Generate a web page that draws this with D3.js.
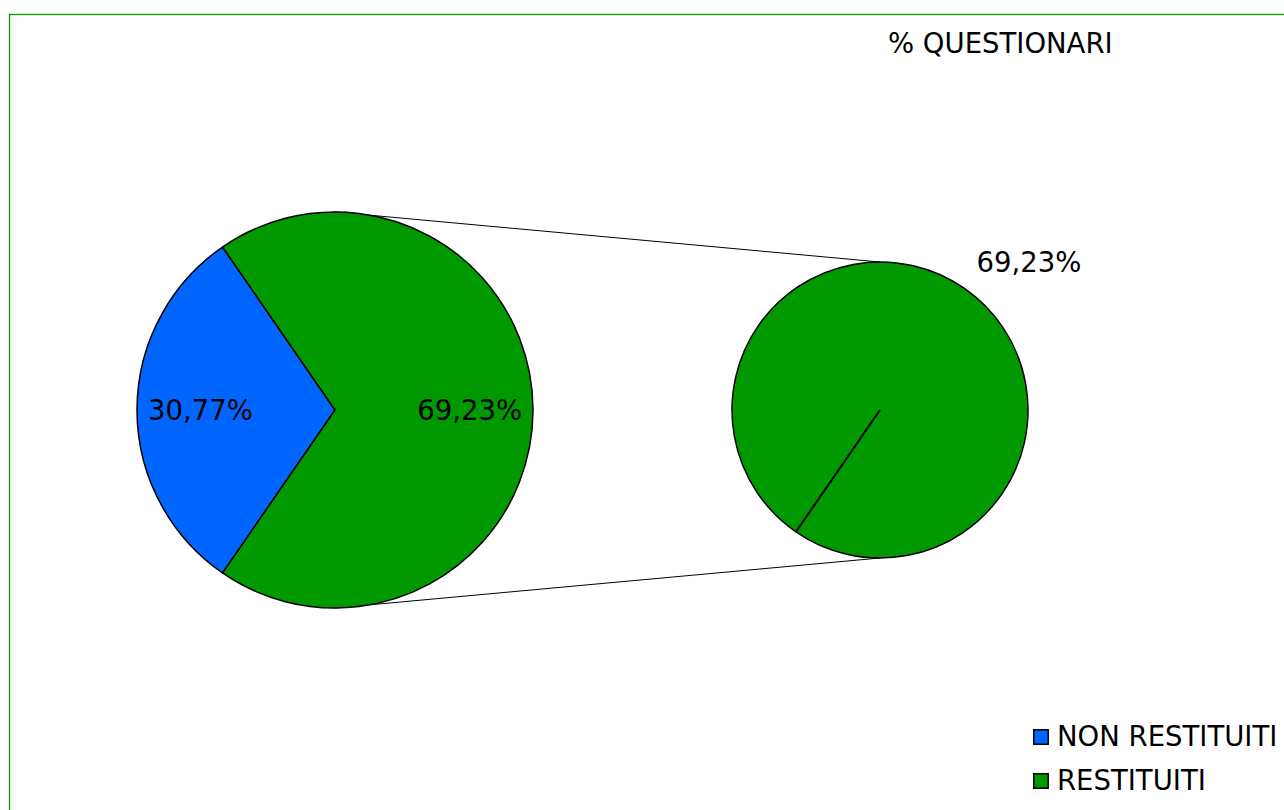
<!DOCTYPE html>
<html><head><meta charset="utf-8">
<script src="https://cdn.jsdelivr.net/npm/d3@7"></script>
<style>
html,body{margin:0;padding:0;background:#fff;}
svg{display:block;}
text{font-family:"DejaVu Sans",Verdana,sans-serif;fill:#000;}
</style></head>
<body>
<svg id="chart" width="1284" height="810"></svg>
<script>
const title = "% QUESTIONARI";
const categories = ["NON RESTITUITI", "RESTITUITI"];
const values = [30.77, 69.23];
const valueLabels = ["30,77%", "69,23%"];
const colors = ["#0066ff", "#009900"];
// second pie: breakdown of the "RESTITUITI" slice
const subValues = [69.23];
const subLabels = ["69,23%"];

const svg = d3.select("#chart");
const W = 1284, H = 810;
const FS = 27.5;

// outer frame
svg.append("rect").attr("x", 9.5).attr("y", 14.5).attr("width", W + 20).attr("height", H + 20)
  .attr("fill", "none").attr("stroke", "#00a000").attr("stroke-width", 1.3);

svg.append("text").attr("x", 888).attr("y", 53).attr("font-size", FS).text(title);

const c1 = {x: 335, y: 410, r: 198};
const c2 = {x: 880, y: 410, r: 148};

const total = d3.sum(values);
const startA = Math.PI * 1.5 - (values[0] / total) * Math.PI;

// connector lines
svg.append("line").attr("x1", c1.x).attr("y1", c1.y - c1.r).attr("x2", c2.x).attr("y2", c2.y - c2.r)
  .attr("stroke", "#000").attr("stroke-width", 1);
svg.append("line").attr("x1", c1.x).attr("y1", c1.y + c1.r).attr("x2", c2.x).attr("y2", c2.y + c2.r)
  .attr("stroke", "#000").attr("stroke-width", 1);

const pie = d3.pie().sort(null).value(d => d).startAngle(startA).endAngle(startA + 2 * Math.PI);
const arcs = pie(values);
const arc1 = d3.arc().innerRadius(0).outerRadius(c1.r);
const g1 = svg.append("g").attr("transform", `translate(${c1.x},${c1.y})`);
g1.selectAll("path").data(arcs).join("path")
  .attr("d", arc1).attr("fill", (d, i) => colors[i])
  .attr("stroke", "#000").attr("stroke-width", 1.5).attr("stroke-linejoin", "round");
const lblArc = d3.arc().innerRadius(c1.r * 0.68).outerRadius(c1.r * 0.68);
g1.selectAll("text").data(arcs).join("text")
  .attr("transform", d => { const p = lblArc.centroid(d); return `translate(${p[0]},${p[1] + 9.5})`; })
  .attr("text-anchor", "middle").attr("font-size", FS)
  .text((d, i) => valueLabels[i]);

// second pie
const pie2 = d3.pie().sort(null).value(d => d).startAngle(startA).endAngle(startA + 2 * Math.PI);
const arcs2 = pie2(subValues);
const arc2 = d3.arc().innerRadius(0).outerRadius(c2.r);
const g2 = svg.append("g").attr("transform", `translate(${c2.x},${c2.y})`);
g2.selectAll("path").data(arcs2).join("path")
  .attr("d", arc2).attr("fill", colors[1]).attr("stroke", "#000").attr("stroke-width", 1.5);
g2.selectAll("line.rad").data(arcs2).join("line").attr("class", "rad")
  .attr("x1", 0).attr("y1", 0)
  .attr("x2", d => Math.sin(d.startAngle) * c2.r).attr("y2", d => -Math.cos(d.startAngle) * c2.r)
  .attr("stroke", "#000").attr("stroke-width", 2);
g2.selectAll("text").data(arcs2).join("text")
  .attr("x", 149).attr("y", -138).attr("text-anchor", "middle").attr("font-size", FS)
  .text((d, i) => subLabels[i]);

// legend
const lg = svg.append("g").attr("transform", "translate(1033,729)");
const items = lg.selectAll("g").data(categories).join("g")
  .attr("transform", (d, i) => `translate(0,${i * 44})`);
items.append("rect").attr("x", 0.75).attr("y", 0.75).attr("width", 14.5).attr("height", 14.5)
  .attr("fill", (d, i) => colors[i]).attr("stroke", "#000").attr("stroke-width", 1.5);
items.append("text").attr("x", 24).attr("y", 17).attr("font-size", FS).text(d => d);
</script>
</body></html>
